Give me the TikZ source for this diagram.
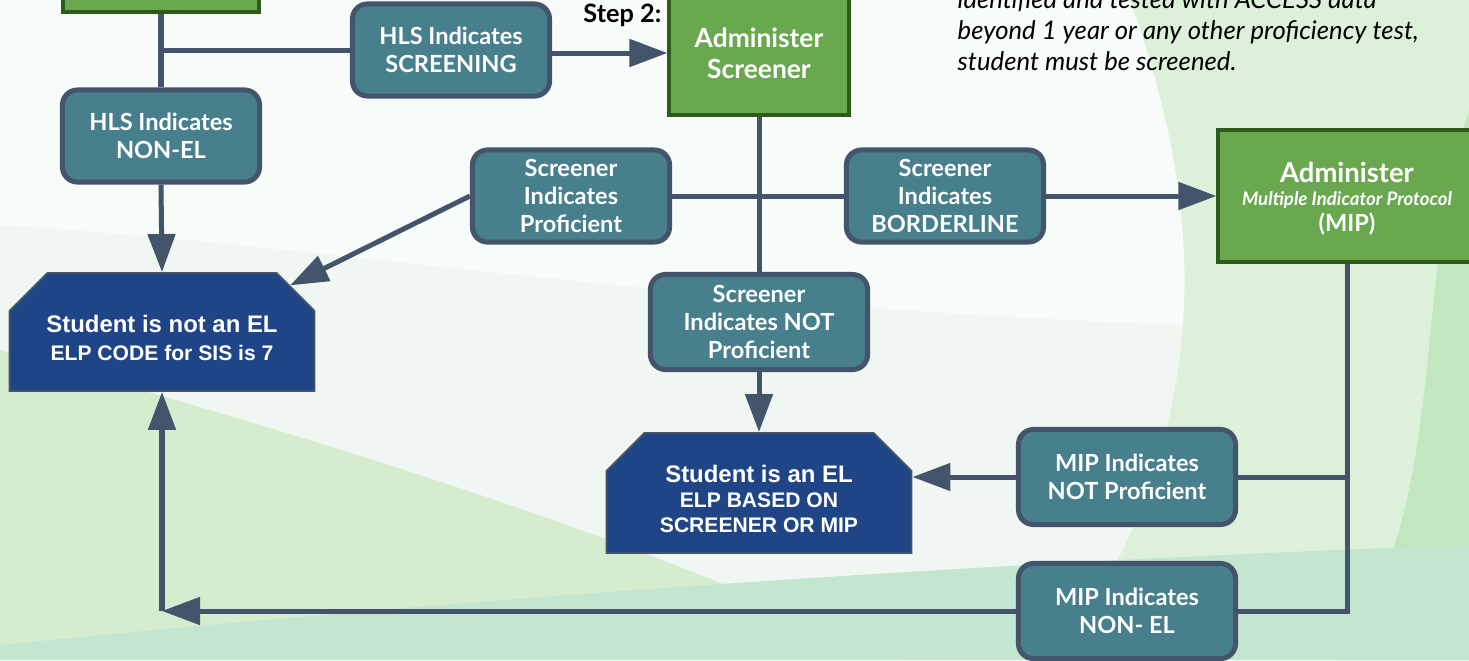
\documentclass[tikz,border=0pt]{standalone}
\usepackage{fontspec}
\setmainfont{Lato}
\newfontfamily\arialfont{Liberation Sans}
\usetikzlibrary{shapes.misc,arrows.meta}

\definecolor{linegray}{HTML}{44546A}
\definecolor{tealfill}{HTML}{487F8C}
\definecolor{greenfill}{HTML}{6AA84F}
\definecolor{greenedge}{HTML}{2E5A1A}
\definecolor{navyfill}{HTML}{1F4587}
\definecolor{bgbase}{HTML}{F7FBF9}
\definecolor{bgpale}{HTML}{F0F7F2}
\definecolor{bggreen}{HTML}{D6ECCE}
\definecolor{bgteal}{HTML}{C4E6D1}
\definecolor{bgright}{HTML}{DDF1DA}
\definecolor{bgdeep}{HTML}{C2E6BF}

\tikzset{
  indicates/.style={draw=linegray, fill=tealfill, line width=0.05cm, rounded corners=0.15cm,
    text=white, align=center, inner sep=0pt, minimum width=1.97cm, minimum height=0.92cm,
    font=\bfseries\fontsize{6.7}{8}\selectfont},
  wideindicates/.style={indicates, minimum width=2.17cm, minimum height=0.95cm},
  administer/.style={draw=greenedge, fill=greenfill, line width=0.04cm, text=white,
    align=center, inner sep=0pt, font=\bfseries\fontsize{7.5}{8.8}\selectfont},
  outcome/.style={chamfered rectangle, chamfered rectangle corners={north west, north east},
    chamfered rectangle sep=0.19cm, draw=linegray, line width=0.5pt, fill=navyfill,
    text=white, align=center, inner sep=0pt, minimum width=3.05cm, minimum height=1.18cm,
    text depth=0pt, font=\arialfont\bfseries\fontsize{6}{7.1}\selectfont},
  connector/.style={draw=linegray, line width=0.05cm},
  arrow/.style={connector, -{Triangle[length=0.38cm,width=0.27cm]}}
}

\begin{document}
\begin{tikzpicture}[x=0.01cm, y=-0.01cm]
\useasboundingbox (0,0) rectangle (1469,660);

\fill[bgbase] (0,0) rectangle (1469,660);
\fill[bgpale] (0,225) .. controls (400,250) and (800,330) .. (1469,330) -- (1469,660) -- (0,660) -- cycle;
\fill[bggreen] (0,350) .. controls (250,420) and (600,520) .. (900,660) -- (0,660) -- cycle;
\fill[bgright] (1130,0) -- (1469,0) -- (1469,660) -- (1060,660) .. controls (1200,450) and (1220,250) .. (1130,0) -- cycle;
\fill[bgdeep] (1469,110) .. controls (1410,300) and (1450,500) .. (1340,660) -- (1469,660) -- cycle;
\fill[bgteal] (0,645) .. controls (400,605) and (900,565) .. (1469,545) -- (1469,660) -- (0,660) -- cycle;

\node[administer, minimum width=1.95cm, minimum height=0.69cm] (step1) at (161,-23) {};
\node[indicates] (scrhls) at (451,50) {HLS Indicates\\SCREENING};
\node[indicates] (nonel) at (161,136) {HLS Indicates\\NON-EL};
\node[administer, minimum width=1.79cm, minimum height=1.23cm] (admscr) at (759,53) {Administer\\Screener};
\node[font=\bfseries\fontsize{7.2}{8}\selectfont, anchor=base east, inner sep=0pt] (step2) at (662,22) {Step 2:};
\node[font=\itshape\fontsize{7.3}{8.7}\selectfont, align=left, anchor=base west, inner sep=0pt] (note) at (957,70) {identified and tested with ACCESS data\\beyond 1 year or any other proficiency test,\\student must be screened.};

\node[indicates] (prof) at (571,196) {Screener\\Indicates\\Proficient};
\node[indicates] (border) at (945,196) {Screener\\Indicates\\BORDERLINE};
\node[administer, minimum width=2.57cm, minimum height=1.32cm, text height=0.70cm, text depth=0pt] (mip) at (1347,196) {\fontsize{7.8}{9}\selectfont Administer\\[-2.3pt]{\itshape\fontsize{5.3}{7}\selectfont Multiple Indicator Protocol}\\[-1.4pt]\fontsize{6.7}{8}\selectfont(MIP)};
\node[wideindicates] (notprof) at (759,322) {Screener\\Indicates NOT\\Proficient};

\node[outcome, text height=0.56cm, font=\arialfont\bfseries\fontsize{6}{7.7}\selectfont] (notel) at (162,332) {\fontsize{6.8}{7.7}\selectfont Student is not an EL\\ELP CODE for SIS is 7};
\node[outcome, minimum height=1.2cm, text height=0.78cm] (isel) at (759,493) {\fontsize{6.8}{7.1}\selectfont Student is an EL\\ELP BASED ON\\SCREENER OR MIP};

\node[wideindicates] (mipnot) at (1127,477) {MIP Indicates\\NOT Proficient};
\node[wideindicates] (mipnon) at (1127,611) {MIP Indicates\\NON- EL};

\coordinate (hlsjoin) at (step1.south |- scrhls.west);
\draw[connector] (step1.south) -- (nonel.north);
\draw[connector] (hlsjoin) -- (scrhls.west);
\draw[arrow] (scrhls.east |- admscr.west) -- (admscr.west);
\draw[arrow] (nonel.south) -- (notel.north);
\draw[arrow] (prof.west) -- (notel.20);
\draw[connector] (admscr.south) -- (notprof.north);
\draw[connector] (prof.east) -- (border.west);
\draw[arrow] (border.east) -- (mip.west);
\draw[arrow] (notprof.south) -- (isel.north);

\coordinate (mipbend) at (mip.south |- mipnon.east);
\draw[connector] (mip.south) -- (mipbend) -- (mipnon.east);
\draw[connector] (mipnot.east) -- (mipnot.east -| mip.south);
\draw[arrow] (mipnot.west) -- (isel.east |- mipnot.west);
\coordinate (nonelbend) at (notel.south |- mipnon.west);
\draw[arrow] (mipnon.west) -- (nonelbend);
\draw[arrow] (nonelbend) -- (notel.south);
\end{tikzpicture}
\end{document}
